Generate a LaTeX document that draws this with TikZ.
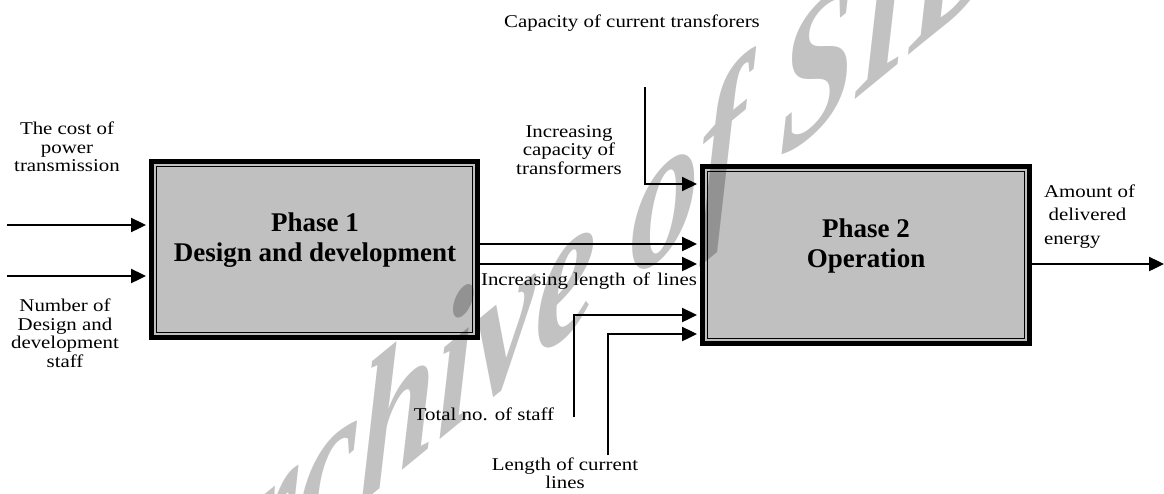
\documentclass[tikz,border=0pt]{standalone}
\usepackage{fontspec}
\setmainfont{Liberation Serif}
\usepackage{graphicx}
\usetikzlibrary{arrows.meta,calc}
\definecolor{boxgray}{RGB}{192,192,192}
\newcommand\stack[2][c]{\begin{tabular}[t]{@{}#1@{}}#2\end{tabular}}
\newcommand\lbl[2][c]{\scalebox{1.16}[1]{\stack[#1]{#2}}}
\tikzset{
  phase/.style={draw, line width=5pt, fill=boxgray, outer sep=0pt, inner sep=0pt,
    path picture={\draw[line width=1pt]
      ([shift={(5pt,-5pt)}]path picture bounding box.north west) rectangle
      ([shift={(-5pt,5pt)}]path picture bounding box.south east);}},
  lab/.style={inner sep=0pt, outer sep=0pt, anchor=base, font=\fontsize{18}{18.7}\selectfont},
  btxt/.style={inner sep=0pt, outer sep=0pt, anchor=base, font=\fontsize{27}{30}\selectfont\bfseries},
  arr/.style={line width=2.4pt, -{Triangle[length=15pt,width=14pt]}, shorten >=5.5pt},
  wmark/.style={inner sep=0pt, anchor=base west, text=black, text opacity=0.24,
    font=\fontsize{160}{170}\selectfont\bfseries\itshape}
}
\begin{document}
\begin{tikzpicture}[x=1pt,y=-1pt]
\useasboundingbox (0,0) rectangle (1164,493);
% boxes
\node[phase, minimum width=326pt, minimum height=176pt] (p1) at (314.5,249.5) {};
\node[phase, minimum width=327pt, minimum height=177pt] (p2) at (866,255) {};
% box texts
\node[btxt] (t1) at (315,231) {\stack{Phase 1\\Design and development}};
\node[btxt] (t2) at (866,237) {\stack{Phase 2\\Operation}};
% free ends
\coordinate (i1) at (7,225);
\coordinate (i2) at (7,276);
\coordinate (c1) at (645,87);
\coordinate (s1) at (574,417);
\coordinate (l1) at (608,455);
\coordinate (o1) at (1164,264);
% connectors
\draw[arr] (i1) -- (i1 -| p1.west);
\draw[arr] (i2) -- (i2 -| p1.west);
\draw[arr] (p1.east |- 0,244) -- (p2.west |- 0,244);
\draw[arr] (p1.east |- 0,264) -- (p2.west |- 0,264);
\draw[arr, line width=2pt] (c1) |- (p2.west |- 0,184);
\draw[arr] (s1) |- (p2.west |- 0,315);
\draw[arr] (l1) |- (p2.west |- 0,334);
\draw[arr, shorten >=0pt] (p2.east |- o1) -- (o1);
% labels
\node[lab] (capL) at (632,27) {\lbl{Capacity of current transforers}};
\node[lab] (incC) at (569,137) {\lbl{Increasing\\capacity of\\transformers}};
\node[lab] (cost) at (67,134.5) {\lbl{The cost of\\power\\transmission}};
\node[lab] (num) at (65,311.5) {\lbl{Number of\\Design and\\development\\staff}};
\node[lab] (incL) at (589,285.5) {\lbl{Increasing length\hspace{0.35em}of\hspace{0.35em}lines}};
\node[lab] (tot) at (484,420) {\lbl{Total no. of staff}};
\node[lab] (len) at (565,470) {\lbl{Length of current\\lines}};
\node[lab, anchor=base west] (amt) at (1044,197) {\renewcommand\arraystretch{1.283}\lbl[l]{Amount of\\\hspace{4pt}delivered\\energy}};
% watermark
\begin{scope}
\clip (0,0) rectangle (1164,493);
\node[wmark, cm={0.86,0.705,0,1.2,(0,0)}] (wm) at (153,675) {Archive of SID};
\end{scope}
\end{tikzpicture}
\end{document}
